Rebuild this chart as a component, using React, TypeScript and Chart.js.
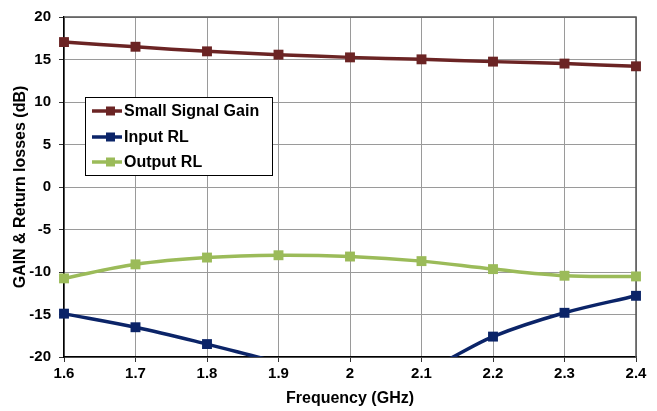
import { useEffect, useRef } from 'react';
import { Chart, registerables } from 'chart.js';

Chart.register(...registerables);

const freqs = [1.6, 1.7, 1.8, 1.9, 2.0, 2.1, 2.2, 2.3, 2.4];
const xTickLabels = ['1.6', '1.7', '1.8', '1.9', '2', '2.1', '2.2', '2.3', '2.4'];
const yTicks = [-20, -15, -10, -5, 0, 5, 10, 15, 20];
const seriesNames = ['Small Signal Gain', 'Input RL', 'Output RL'];
const gain = [17.05, 16.5, 15.96, 15.57, 15.25, 15.02, 14.75, 14.52, 14.2];
const inputRL = [-14.9, -16.5, -18.48, -20.6, -22.3, -21.6, -17.6, -14.8, -12.8];
const outputRL = [-10.75, -9.1, -8.3, -8.03, -8.18, -8.72, -9.66, -10.44, -10.52];
const colors = ['#6B2424', '#0B2468', '#9BBB59'];

const FONT = '"Liberation Sans", Arial, sans-serif';

const framePlugin = {
  id: 'frame',
  beforeDatasetsDraw(chart: any) {
    const { ctx, chartArea: a } = chart;
    ctx.save();
    ctx.strokeStyle = '#555555';
    ctx.lineWidth = 1.5;
    ctx.beginPath();
    ctx.moveTo(a.left, a.top);
    ctx.lineTo(a.right, a.top);
    ctx.lineTo(a.right, a.bottom);
    ctx.stroke();
    ctx.restore();
  },
};

const legendPlugin = {
  id: 'insideLegend',
  afterDraw(chart: any) {
    const { ctx } = chart;
    const x0 = 85, y0 = 97, w = 187, h = 78;
    ctx.save();
    ctx.fillStyle = '#ffffff';
    ctx.fillRect(x0, y0, w, h);
    ctx.strokeStyle = '#000000';
    ctx.lineWidth = 1;
    ctx.strokeRect(x0 + 0.5, y0 + 0.5, w, h);
    const rows = [111, 137, 162];
    chart.data.datasets.forEach((ds: any, i: number) => {
      const y = rows[i];
      ctx.strokeStyle = ds.borderColor;
      ctx.lineWidth = 3.5;
      ctx.beginPath();
      ctx.moveTo(92, y);
      ctx.lineTo(122, y);
      ctx.stroke();
      ctx.fillStyle = ds.borderColor;
      ctx.fillRect(106, y - 4.5, 9, 9);
      ctx.fillStyle = '#000000';
      ctx.font = `bold 16px ${FONT}`;
      ctx.textBaseline = 'middle';
      ctx.textAlign = 'left';
      ctx.fillText(ds.label, 124, y + 1);
    });
    ctx.restore();
  },
};

export default function App() {
  const ref = useRef<HTMLCanvasElement | null>(null);
  useEffect(() => {
    if (!ref.current) return;
    const series = [gain, inputRL, outputRL];
    const chart = new Chart(ref.current, {
      type: 'line',
      data: {
        datasets: series.map((s, i) => ({
          label: seriesNames[i],
          data: freqs.map((x, j) => ({ x, y: s[j] })),
          borderColor: colors[i],
          backgroundColor: colors[i],
          borderWidth: 3.5,
          pointStyle: 'rect',
          pointRadius: 7,
          pointBorderWidth: 0,
          tension: 0.35,
          clip: { left: false, right: false, top: false, bottom: 0 },
          fill: false,
        })),
      },
      options: {
        animation: false,
        responsive: false,
        layout: { padding: { top: 14, right: 21, left: 0, bottom: 0 } },
        elements: { line: { capBezierPoints: false } },
        plugins: { legend: { display: false }, tooltip: { enabled: false } },
        scales: {
          x: {
            type: 'linear',
            min: 1.6,
            max: 2.4,
            afterBuildTicks: (scale: any) => {
              scale.ticks = freqs.map((v) => ({ value: v }));
            },
            afterFit: (scale: any) => {
              scale.height = 54;
            },
            ticks: {
              callback: (_v: any, i: number) => xTickLabels[i],
              font: { family: FONT, size: 15, weight: 'bold' },
              color: '#000000',
              padding: 3,
              maxRotation: 0,
              autoSkip: false,
            },
            grid: { color: '#9a9a9a', lineWidth: 1, tickLength: 5, tickColor: '#333333' },
            border: { color: '#000000', width: 1.5 },
            title: {
              display: true,
              text: 'Frequency (GHz)',
              font: { family: FONT, size: 16, weight: 'bold' },
              color: '#000000',
              padding: { top: 0, bottom: 3 },
            },
          },
          y: {
            type: 'linear',
            min: -20,
            max: 20,
            afterBuildTicks: (scale: any) => {
              scale.ticks = yTicks.map((v) => ({ value: v }));
            },
            afterFit: (scale: any) => {
              scale.width = 64;
            },
            ticks: {
              callback: (v: any) => String(v),
              font: { family: FONT, size: 15, weight: 'bold' },
              color: '#000000',
              padding: 8,
            },
            grid: { color: '#9a9a9a', lineWidth: 1, tickLength: 5, tickColor: '#333333' },
            border: { color: '#000000', width: 1.5 },
            title: {
              display: true,
              text: 'GAIN & Return losses (dB)',
              font: { family: FONT, size: 16, weight: 'bold' },
              color: '#000000',
              padding: { top: 11, bottom: 0 },
            },
          },
        },
      },
      plugins: [framePlugin, legendPlugin],
    } as any);
    return () => chart.destroy();
  }, []);
  return (
    <div style={{ position: 'fixed', left: 0, top: 0, width: 657, height: 411, background: '#ffffff' }}>
      <canvas ref={ref} width={657} height={411} style={{ display: 'block', width: 657, height: 411 }} />
    </div>
  );
}
